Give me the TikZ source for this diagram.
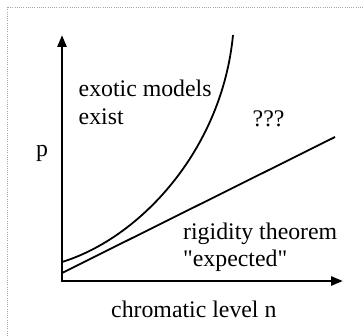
\documentclass[tikz,border=0pt]{standalone}
\usepackage{fontspec}
\setmainfont{Liberation Serif}
\usetikzlibrary{arrows.meta}
\begin{document}
\begin{tikzpicture}[x=1pt,y=-1pt,
  axisline/.style={line width=2.6pt,line join=miter,
    {Triangle[length=12pt,width=9pt]}-{Triangle[length=12pt,width=9pt]}},
  curveline/.style={line width=1.8pt,line cap=butt},
  lbl/.style={anchor=base west,inner sep=0pt,font=\fontsize{23.8}{28}\selectfont},
  frame/.style={gray!70,line width=0.9pt,dash pattern=on 1pt off 1.2pt}]
\useasboundingbox (0,0) rectangle (363,336);
\draw[frame] (7,336) -- (7,7) -- (363,7);
\coordinate (origin) at (62,281);
\coordinate (ytip) at (62,35);
\coordinate (xtip) at (343,281);
\draw[axisline] (ytip) -- (origin) -- (xtip);
\coordinate (lineA) at (62,273);
\coordinate (lineB) at (335,137);
\draw[curveline] (lineA) -- (lineB);
\coordinate (curveA) at (62,262);
\coordinate (curveB) at (233,35);
\draw[curveline] (curveA) .. controls (140,238) and (222,150) .. (curveB);
\node[lbl] (p) at (36,157) {p};
\node[lbl] (exotic) at (78.5,97) {exotic models};
\node[lbl] (exist) at (78.5,125) {exist};
\node[lbl] (q) at (252.5,127) {???};
\node[lbl] (rig) at (183,239) {rigidity theorem};
\node[lbl] (exp) at (183,266) {\textquotedbl expected\textquotedbl};
\node[lbl] (chrom) at (111,317) {chromatic level n};
\end{tikzpicture}
\end{document}
